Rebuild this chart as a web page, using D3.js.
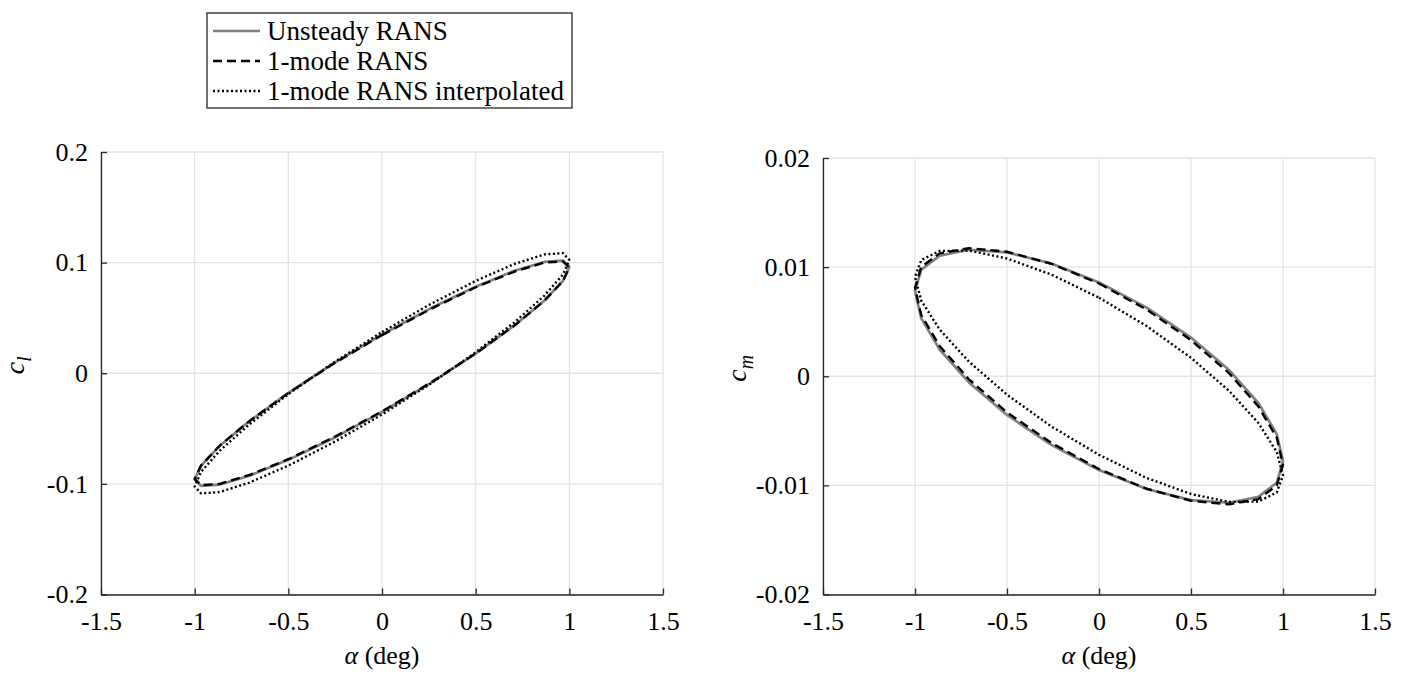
<!DOCTYPE html>
<html>
<head>
<meta charset="utf-8">
<script src="https://cdn.jsdelivr.net/npm/d3@7"></script>
<style>
  body { margin: 0; background: #fff; }
  svg text { font-family: "Liberation Serif", "Times New Roman", serif; fill: #000; }
</style>
</head>
<body>
<div id="main"></div>
<script>
// pitch angle over one cycle (deg), sampled every 15 deg of phase
const alphaDeg = [0, 0.259, 0.5, 0.707, 0.866, 0.966, 1, 0.966, 0.866, 0.707, 0.5, 0.259,
                  0, -0.259, -0.5, -0.707, -0.866, -0.966, -1, -0.966, -0.866, -0.707, -0.5, -0.259];

// lift coefficient
const clUnsteady = [0.0350, 0.0587, 0.0783, 0.0926, 0.1006, 0.1018, 0.0960, 0.0836, 0.0656, 0.0432, 0.0177, -0.0089,
                    -0.0350, -0.0587, -0.0783, -0.0926, -0.1006, -0.1018, -0.0960, -0.0836, -0.0656, -0.0432, -0.0177, 0.0089];
const clOneMode = [0.0345, 0.0580, 0.0777, 0.0919, 0.1000, 0.1012, 0.0955, 0.0834, 0.0654, 0.0431, 0.0179, -0.0086,
                   -0.0345, -0.0580, -0.0777, -0.0919, -0.1000, -0.1012, -0.0955, -0.0834, -0.0654, -0.0431, -0.0179, 0.0086];
const clInterp = [0.0373, 0.0625, 0.0835, 0.0988, 0.1074, 0.1086, 0.1024, 0.0892, 0.0700, 0.0460, 0.0189, -0.0095,
                  -0.0373, -0.0625, -0.0835, -0.0988, -0.1074, -0.1086, -0.1024, -0.0892, -0.0700, -0.0460, -0.0189, 0.0095];

// moment coefficient
const cmUnsteady = [0.0086, 0.00629, 0.00355, 0.00057, -0.00245, -0.0053, -0.0078, -0.00976, -0.01105, -0.01159, -0.01135, -0.01033,
                    -0.0086, -0.00629, -0.00355, -0.00057, 0.00245, 0.0053, 0.0078, 0.00976, 0.01105, 0.01159, 0.01135, 0.01033];
const cmOneMode = [0.0085, 0.00611, 0.00331, 0.00028, -0.00276, -0.00562, -0.0081, -0.01002, -0.01126, -0.01174, -0.01141, -0.01031,
                   -0.0085, -0.00611, -0.00331, -0.00028, 0.00276, 0.00562, 0.0081, 0.01002, 0.01126, 0.01174, 0.01141, 0.01031];
const cmInterp = [0.0072, 0.0046, 0.00169, -0.00134, -0.00428, -0.00693, -0.0091, -0.01065, -0.01148, -0.01152, -0.01079, -0.00932,
                  -0.0072, -0.0046, -0.00169, 0.00134, 0.00428, 0.00693, 0.0091, 0.01065, 0.01148, 0.01152, 0.01079, 0.00932];

const xTicks = [-1.5, -1, -0.5, 0, 0.5, 1, 1.5];
const clTicks = [-0.2, -0.1, 0, 0.1, 0.2];
const cmTicks = [-0.02, -0.01, 0, 0.01, 0.02];
const seriesNames = ["Unsteady RANS", "1-mode RANS", "1-mode RANS interpolated"];

const styles = [
  { stroke: "#808080", width: 2.7, dash: null },
  { stroke: "#000", width: 2.4, dash: "9,5" },
  { stroke: "#000", width: 2.4, dash: "2,2.5" }
];

const svg = d3.select("#main").append("svg")
  .attr("width", 1410).attr("height", 675);

function drawPanel(box, yDomain, yTicks, ys, yName, ySub) {
  const x = d3.scaleLinear().domain([-1.5, 1.5]).range([box.left, box.right]);
  const y = d3.scaleLinear().domain(yDomain).range([box.bottom, box.top]);
  const g = svg.append("g");

  // grid
  g.selectAll("line.gx").data(xTicks).enter().append("line")
    .attr("x1", d => x(d)).attr("x2", d => x(d))
    .attr("y1", box.top).attr("y2", box.bottom)
    .attr("stroke", "#e3e3e3").attr("stroke-width", 1.3);
  g.selectAll("line.gy").data(yTicks).enter().append("line")
    .attr("y1", d => y(d)).attr("y2", d => y(d))
    .attr("x1", box.left).attr("x2", box.right)
    .attr("stroke", "#e3e3e3").attr("stroke-width", 1.3);

  // axes with inward ticks
  const xAxis = d3.axisBottom(x).tickValues(xTicks).tickSizeInner(-6).tickSizeOuter(0)
    .tickPadding(17).tickFormat(d => String(d));
  const yAxis = d3.axisLeft(y).tickValues(yTicks).tickSizeInner(-6).tickSizeOuter(0)
    .tickPadding(13).tickFormat(d => String(d));

  const gx = g.append("g").attr("transform", `translate(0,${box.bottom})`).call(xAxis);
  const gy = g.append("g").attr("transform", `translate(${box.left},0)`).call(yAxis);
  [gx, gy].forEach(a => {
    a.select(".domain").attr("stroke", "#262626").attr("stroke-width", 1.3);
    a.selectAll(".tick line").attr("stroke", "#262626").attr("stroke-width", 1.3);
    a.selectAll(".tick text").attr("font-size", 26)
      .attr("font-family", "Liberation Serif").attr("fill", "#000");
  });

  // loops
  const line = d3.line().x(d => x(d[0])).y(d => y(d[1])).curve(d3.curveLinearClosed);
  ys.forEach((vals, i) => {
    const pts = alphaDeg.map((a, k) => [a, vals[k]]);
    g.append("path").datum(pts)
      .attr("d", line)
      .attr("fill", "none")
      .attr("stroke", styles[i].stroke)
      .attr("stroke-width", styles[i].width)
      .attr("stroke-dasharray", styles[i].dash)
      .attr("stroke-linejoin", "round");
  });

  // x label
  const xl = g.append("text")
    .attr("x", (box.left + box.right) / 2).attr("y", 664)
    .attr("text-anchor", "middle").attr("font-size", 26);
  xl.append("tspan").attr("font-style", "italic").text("α");
  xl.append("tspan").text(" (deg)");

  // y label
  const yl = g.append("text")
    .attr("transform", `translate(${box.left - 77},${(box.top + box.bottom) / 2 - 8}) rotate(-90)`)
    .attr("text-anchor", "middle").attr("font-size", 28);
  yl.append("tspan").attr("font-style", "italic").text(yName);
  yl.append("tspan").attr("font-style", "italic").attr("font-size", 20)
    .attr("dy", 7).text(ySub);
}

drawPanel({ left: 101, right: 663, top: 152, bottom: 594.5 }, [-0.2, 0.2], clTicks,
  [clUnsteady, clOneMode, clInterp], "c", "l");
drawPanel({ left: 823, right: 1375, top: 158, bottom: 594.5 }, [-0.02, 0.02], cmTicks,
  [cmUnsteady, cmOneMode, cmInterp], "c", "m");

// legend
const legend = svg.append("g").attr("id", "legend");
legend.append("rect")
  .attr("x", 207).attr("y", 13).attr("width", 365).attr("height", 95)
  .attr("fill", "#fff").attr("stroke", "#262626").attr("stroke-width", 1.3);
seriesNames.forEach((name, i) => {
  const cy = 31 + i * 30;
  legend.append("line")
    .attr("x1", 213).attr("x2", 260).attr("y1", cy).attr("y2", cy)
    .attr("stroke", styles[i].stroke)
    .attr("stroke-width", styles[i].width)
    .attr("stroke-dasharray", styles[i].dash);
  legend.append("text")
    .attr("x", 267).attr("y", cy + 9)
    .attr("font-size", 27)
    .text(name);
});
</script>
</body>
</html>
